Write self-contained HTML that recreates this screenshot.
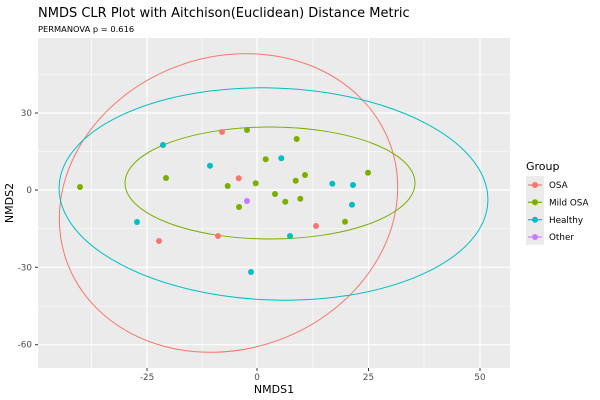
<!DOCTYPE html>
<html><head><meta charset="utf-8"><style>body{margin:0;background:#fff}svg{display:block;font-family:"DejaVu Sans","Liberation Sans",sans-serif}</style></head>
<body>
<svg width="600" height="400" viewBox="0 0 600 400">
<rect width="600" height="400" fill="#fff"/>
<text x="38" y="17" font-size="13" fill="#000">NMDS CLR Plot with Aitchison(Euclidean) Distance Metric</text>
<text x="38" y="32" font-size="8.3" fill="#000">PERMANOVA p = 0.616</text>
<rect x="38" y="38" width="472" height="330" fill="#ebebeb"/>
<g stroke="#fff" stroke-width="0.6">
<line x1="91.5" y1="38" x2="91.5" y2="368"/><line x1="202" y1="38" x2="202" y2="368"/><line x1="313" y1="38" x2="313" y2="368"/><line x1="424" y1="38" x2="424" y2="368"/>
<line x1="38" y1="74.5" x2="510" y2="74.5"/><line x1="38" y1="151.5" x2="510" y2="151.5"/><line x1="38" y1="228.5" x2="510" y2="228.5"/><line x1="38" y1="306" x2="510" y2="306"/>
</g>
<g stroke="#fff" stroke-width="1.2">
<line x1="147" y1="38" x2="147" y2="368"/><line x1="257" y1="38" x2="257" y2="368"/><line x1="368.5" y1="38" x2="368.5" y2="368"/><line x1="480" y1="38" x2="480" y2="368"/>
<line x1="38" y1="113" x2="510" y2="113"/><line x1="38" y1="190" x2="510" y2="190"/><line x1="38" y1="267.3" x2="510" y2="267.3"/><line x1="38" y1="344.7" x2="510" y2="344.7"/>
</g>
<g fill="none" stroke-width="1">
<ellipse cx="228.5" cy="203" rx="172" ry="146" transform="rotate(-20 228.5 203)" stroke="#F8766D"/>
<ellipse cx="273.5" cy="194" rx="214.5" ry="106" transform="rotate(2 273.5 194)" stroke="#00BFC4"/>
<ellipse cx="270" cy="183" rx="145" ry="56" stroke="#7CAE00"/>
</g>
<g fill="#F8766D"><circle cx="222" cy="132" r="3"/><circle cx="238.7" cy="178.3" r="3"/><circle cx="316" cy="226" r="3"/><circle cx="218" cy="236" r="3"/><circle cx="159" cy="241" r="3"/></g>
<g fill="#7CAE00"><circle cx="247" cy="130" r="3"/><circle cx="296.7" cy="139" r="3"/><circle cx="265.7" cy="159.3" r="3"/><circle cx="227.7" cy="186" r="3"/><circle cx="255.7" cy="183.3" r="3"/><circle cx="295.7" cy="180.7" r="3"/><circle cx="305" cy="175" r="3"/><circle cx="368" cy="172.7" r="3"/><circle cx="239" cy="207" r="3"/><circle cx="275" cy="194" r="3"/><circle cx="285.3" cy="201.7" r="3"/><circle cx="300.3" cy="198.7" r="3"/><circle cx="345" cy="221.7" r="3"/><circle cx="166" cy="178" r="3"/><circle cx="80" cy="187" r="3"/></g>
<g fill="#00BFC4"><circle cx="210" cy="165.7" r="3"/><circle cx="281.3" cy="158.3" r="3"/><circle cx="332.3" cy="183.7" r="3"/><circle cx="353" cy="185" r="3"/><circle cx="352" cy="204.7" r="3"/><circle cx="290" cy="236" r="3"/><circle cx="163" cy="145" r="3"/><circle cx="137" cy="222" r="3"/><circle cx="251" cy="272" r="3"/></g>
<circle cx="247" cy="201" r="3" fill="#C77CFF"/>
<g stroke="#333" stroke-width="1">
<line x1="147" y1="368" x2="147" y2="371"/><line x1="257" y1="368" x2="257" y2="371"/><line x1="368.5" y1="368" x2="368.5" y2="371"/><line x1="480" y1="368" x2="480" y2="371"/>
<line x1="35" y1="113" x2="38" y2="113"/><line x1="35" y1="190" x2="38" y2="190"/><line x1="35" y1="267.3" x2="38" y2="267.3"/><line x1="35" y1="344.7" x2="38" y2="344.7"/>
</g>
<g font-size="8.8" fill="#4d4d4d" text-anchor="middle">
<text x="147" y="380">-25</text><text x="257" y="380">0</text><text x="368.5" y="380">25</text><text x="480" y="380">50</text>
</g>
<g font-size="8.8" fill="#4d4d4d" text-anchor="end">
<text x="32" y="116">30</text><text x="32" y="193">0</text><text x="32" y="270.3">-30</text><text x="32" y="347.7">-60</text>
</g>
<text x="274" y="393" font-size="11" text-anchor="middle">NMDS1</text>
<text transform="translate(13 203) rotate(-90)" font-size="11" text-anchor="middle">NMDS2</text>
<text x="526" y="170" font-size="11">Group</text>
<rect x="526" y="176" width="18" height="69" fill="#ebebeb"/>
<g stroke-width="1.2"><line x1="528" y1="185" x2="542" y2="185" stroke="#F8766D"/><line x1="528" y1="202.3" x2="542" y2="202.3" stroke="#7CAE00"/><line x1="528" y1="219.7" x2="542" y2="219.7" stroke="#00BFC4"/><line x1="528" y1="237" x2="542" y2="237" stroke="#C77CFF"/></g>
<circle cx="535" cy="185" r="3" fill="#F8766D"/><circle cx="535" cy="202.3" r="3" fill="#7CAE00"/><circle cx="535" cy="219.7" r="3" fill="#00BFC4"/><circle cx="535" cy="237" r="3" fill="#C77CFF"/>
<g font-size="8.8" fill="#000"><text x="549" y="188">OSA</text><text x="549" y="205.5">Mild OSA</text><text x="549" y="223">Healthy</text><text x="549" y="240">Other</text></g>
</svg>
</body></html>
